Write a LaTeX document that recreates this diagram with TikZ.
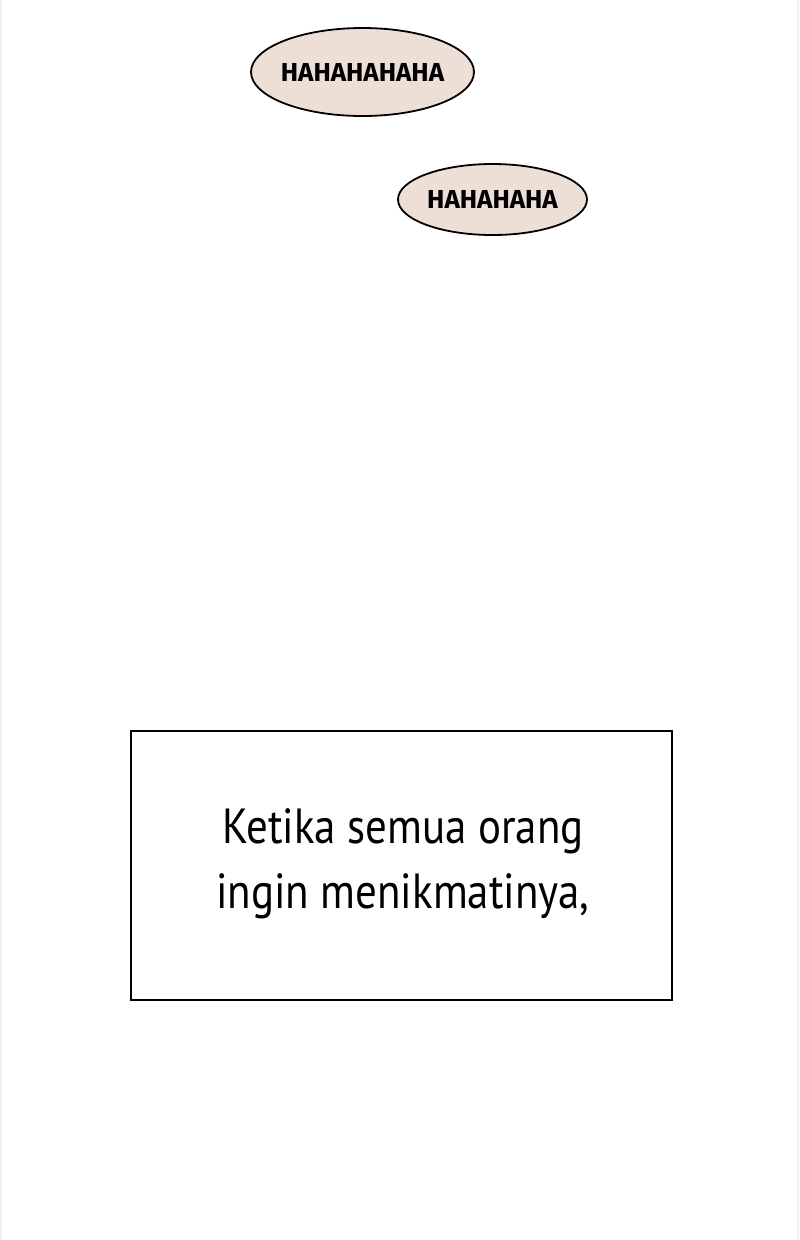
\documentclass[tikz,border=0pt]{standalone}
\usepackage{fontspec}
\usepackage{tikz}
\usetikzlibrary{shapes.geometric}
\newfontfamily\laughfont{Fira Sans}
\newfontfamily\captionfont[FakeStretch=0.87]{PT Sans}
\definecolor{bubblefill}{RGB}{237,223,214}
\begin{document}
\begin{tikzpicture}[x=0.75pt,y=0.75pt,yscale=-1,xscale=1,
  bubble/.style={ellipse,draw=black,line width=1.35pt,fill=bubblefill,inner sep=0pt},
  laugh/.style={font=\laughfont\bfseries\fontsize{19.5}{24}\selectfont},
  captionbox/.style={draw=black,line width=1.5pt,inner sep=0pt}]
%set diagram to the page: 800 x 1240
\useasboundingbox (0,0) rectangle (800,1240);

%Straight Lines: faint page edges
\draw [black!5,line width=0.8pt] (1,0) -- (1,1240) ;
\draw [black!5,line width=0.8pt] (798,0) -- (798,1240) ;

%Shape: Ellipse
\node [bubble,minimum width=167.25pt,minimum height=66pt] (bubbleA) at (362.5,72) {};
%Shape: Ellipse
\node [bubble,minimum width=141.75pt,minimum height=53.25pt] (bubbleB) at (492.5,199.5) {};

% Text Node
\node [laugh] (laughA) at (bubbleA.center) {HAHAHAHAHA};
% Text Node
\node [laugh] (laughB) at (bubbleB.center) {HAHAHAHA};

%Shape: Rectangle
\node [captionbox,minimum width=405.75pt,minimum height=201.75pt] (frame) at (401.5,865.5) {};

% Text Node
\node [align=center,inner sep=0pt,font=\captionfont\fontsize{37}{49}\selectfont] (caption) at (403,864) {Ketika semua orang\\ingin menikmatinya,};

\end{tikzpicture}
\end{document}
